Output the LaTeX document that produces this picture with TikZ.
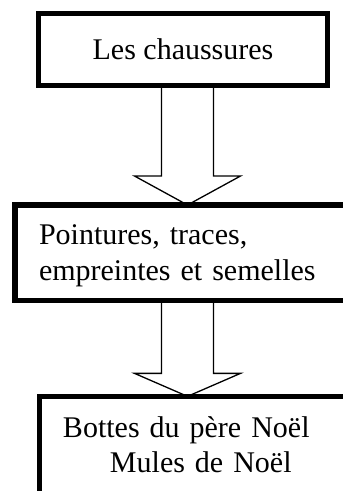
\documentclass[tikz,border=0pt]{standalone}
\usepackage{fontspec}
\setmainfont{Liberation Serif}
\usetikzlibrary{positioning,calc}
\tikzset{
	every node/.style={font=\fontsize{30}{35.5}\selectfont},
	boite/.style={rectangle,draw,line width=5.5pt,outer sep=0pt,inner ysep=20pt,align=left},
	fleche/.style={draw,line width=1.3pt,line join=miter}
}
% #1 depart, #2 pointe, #3 longueur de la tete
\newcommand{\flechebloc}[3]{
	\draw[fleche] ($(#1)+(-26,0)$) -- ($(#2)+(-26,-#3)$) -- ($(#2)+(-53,-#3)$) -- (#2)
		-- ($(#2)+(53,-#3)$) -- ($(#2)+(26,-#3)$) -- ($(#1)+(26,0)$);
}

\begin{document}
\begin{tikzpicture}[x=1pt,y=-1pt]
	\useasboundingbox (0,0) rectangle (343,491);
	\clip (0,0) rectangle (343,491);
	\node[boite,minimum width=289pt,minimum height=72pt,inner sep=0pt,align=center] (b1) at (183,49.5) {Les chaussures};
	\node[boite,inner xsep=24pt,text width=320pt,text depth=35.5pt] (b2) [below right=119.5pt and -23.5pt of b1.south west] {Pointures, traces,\\ empreintes et semelles};
	\node[boite,inner xsep=23.5pt,text width=330pt,text depth=42pt] (b3) [below right=96pt and 24.5pt of b2.south west] {Bottes du père Noël\\ \hspace*{47pt}Mules de Noël};
	\coordinate (d1) at ($(b1.south)+(4.5,0)$);
	\coordinate (p1) at (d1 |- b2.north);
	\coordinate (d2) at (d1 |- b2.south);
	\coordinate (p2) at (d1 |- b3.north);
	\flechebloc{d1}{p1}{29}
	\flechebloc{d2}{p2}{23}
\end{tikzpicture}
\end{document}
